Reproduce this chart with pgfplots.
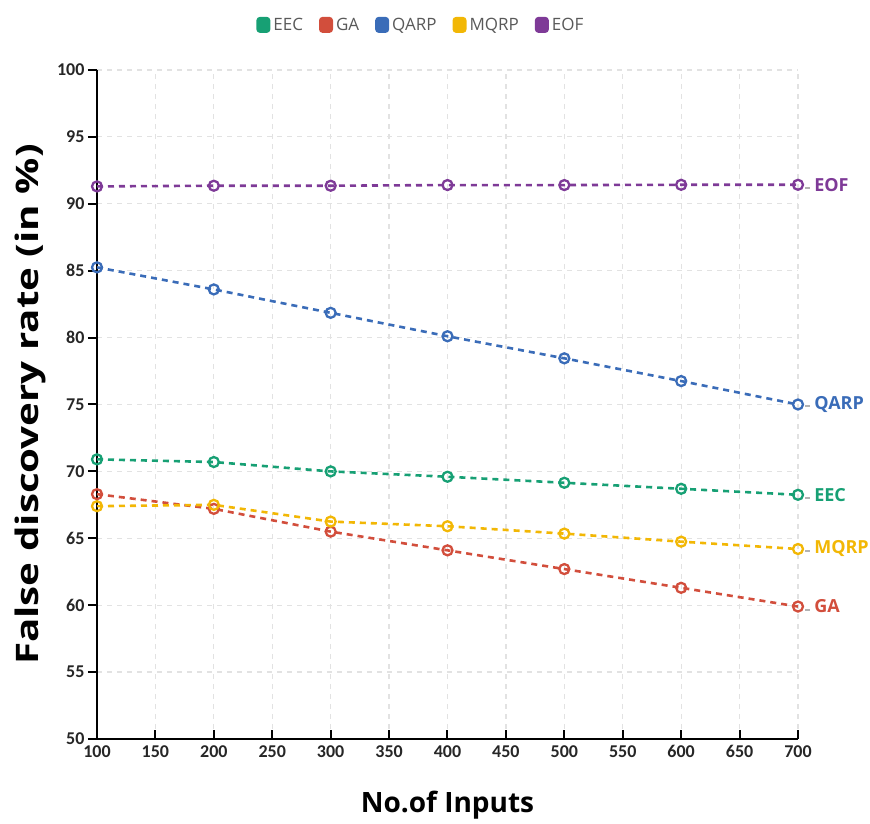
\documentclass[border=0pt]{standalone}
\usepackage{fontspec}
\setmainfont{Carlito}
\newfontfamily\osans{Open Sans}
\usepackage{graphicx}
\usepackage{pgfplots}
\pgfplotsset{compat=1.18}
\definecolor{cEEC}{HTML}{17A074}
\definecolor{cGA}{HTML}{D24E3C}
\definecolor{cQARP}{HTML}{3A6CB8}
\definecolor{cMQRP}{HTML}{F2B705}
\definecolor{cEOF}{HTML}{7E3A97}
\definecolor{gridc}{HTML}{E2E2E2}
\newcommand{\serlab}[2]{\textcolor{gray!60}{\rule[0.45ex]{5pt}{2.2pt}}\hspace{4pt}{\osans\bfseries\fontsize{18}{18}\selectfont\textcolor{#1}{#2}}}
\begin{document}
\begin{tikzpicture}
\useasboundingbox (-97pt,-85pt) rectangle (773pt,739pt);
\begin{axis}[
  scale only axis, width=701pt, height=669pt,
  anchor=south west, at={(0pt,0pt)},
  xmin=100, xmax=700, ymin=50, ymax=100,
  xtick={100,150,...,700}, ytick={50,55,...,100},
  axis x line=bottom, axis y line=left,
  axis line style={-, line width=2.4pt, black},
  tick align=inside, major tick length=9pt,
  tick style={line width=2pt, black},
  y tick style={xshift=-9pt},
  /pgf/number format/assume math mode=true,
  ticklabel style={font=\bfseries\fontsize{18}{18}\selectfont, text=black!85},
  yticklabel style={xshift=-9pt},
  xticklabel style={yshift=-3pt},
  grid=major,
  major grid style={gridc, line width=1.2pt, dash pattern=on 5pt off 5pt},
  xlabel={No.of Inputs}, ylabel={\scalebox{1.3}[1]{False discovery rate (in \%)}},
  xlabel style={font=\osans\bfseries\fontsize{28}{28}\selectfont, at={(axis description cs:0.5,-0.0987)}, anchor=center},
  ylabel style={font=\osans\bfseries\fontsize{31}{31}\selectfont, at={(axis description cs:-0.0956,0.5)}, anchor=center},
  clip=false,
  every axis plot/.append style={line width=2.6pt, dash pattern=on 6pt off 5pt,
    mark=o, mark size=5pt, mark options={solid, line width=2.3pt, fill=white}},
  legend style={draw=none, fill=none, at={(axis description cs:0.462,1)}, anchor=south, yshift=34pt,
    legend columns=5, font=\osans\fontsize{17}{17}\selectfont, text=black!65,
    /tikz/every even column/.append style={column sep=14pt},
    /tikz/every odd column/.append style={column sep=1pt}},
  legend image code/.code={\path[fill, draw=none, solid, rounded corners=3.5pt] (0pt,-8pt) rectangle (14pt,8pt);},
]
\addplot[cEEC] coordinates {(100,70.9) (200,70.7) (300,70.0) (400,69.6) (500,69.15) (600,68.7) (700,68.25)}
  node[pos=1, anchor=west, inner sep=0pt, xshift=6pt] {\serlab{cEEC}{EEC}};
\addlegendentry{EEC}
\addplot[cGA] coordinates {(100,68.3) (200,67.2) (300,65.5) (400,64.1) (500,62.7) (600,61.3) (700,59.9)}
  node[pos=1, anchor=west, inner sep=0pt, xshift=6pt] {\serlab{cGA}{GA}};
\addlegendentry{GA}
\addplot[cQARP] coordinates {(100,85.25) (200,83.6) (300,81.85) (400,80.1) (500,78.45) (600,76.75) (700,75.0)}
  node[pos=1, anchor=west, inner sep=0pt, xshift=6pt] {\serlab{cQARP}{QARP}};
\addlegendentry{QARP}
\addplot[cMQRP] coordinates {(100,67.4) (200,67.5) (300,66.25) (400,65.9) (500,65.35) (600,64.75) (700,64.2)}
  node[pos=1, anchor=west, inner sep=0pt, xshift=6pt] {\serlab{cMQRP}{MQRP}};
\addlegendentry{MQRP}
\addplot[cEOF] coordinates {(100,91.3) (200,91.35) (300,91.35) (400,91.4) (500,91.4) (600,91.42) (700,91.42)}
  node[pos=1, anchor=west, inner sep=0pt, xshift=6pt] {\serlab{cEOF}{EOF}};
\addlegendentry{EOF}
\end{axis}
\end{tikzpicture}
\end{document}
